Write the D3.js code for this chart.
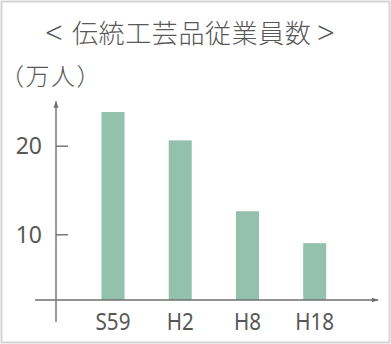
<!DOCTYPE html>
<html><head><meta charset="utf-8">
<script src="https://cdn.jsdelivr.net/npm/d3@7"></script>
<style>
html,body{margin:0;padding:0;background:#fff;}
svg{display:block;}
</style></head>
<body>
<script>
const categories = ["S59", "H2", "H8", "H18"];
const values = [23.8, 20.6, 12.6, 9.0];
const yTicks = [10, 20];
const titleLeft = "<";
const titleMain = "伝統工芸品従業員数";
const titleRight = ">";
const unitLabel = "（万人）";

const W = 391, H = 344;
const svg = d3.select("body").append("svg").attr("width", W).attr("height", H);

// frame
svg.append("rect").attr("x", 1.5).attr("y", 1.5).attr("width", W - 3).attr("height", H - 3)
  .attr("fill", "#fff").attr("stroke", "#d4d4d4").attr("stroke-width", 2);

const axisColor = "#6f6f6f";
const textColor = "#585858";
const barColor = "#93c1ad";

const y = d3.scaleLinear().domain([0, 25]).range([322.9, 101.4]);
const x = d3.scalePoint().domain(categories).range([113, 314.7]);
const baseY = 300, axisX = 56, barW = 23;

const defs = svg.append("defs");
defs.append("marker").attr("id", "arr").attr("viewBox", "0 0 10 10")
  .attr("refX", 9).attr("refY", 5).attr("markerWidth", 7).attr("markerHeight", 7)
  .attr("markerUnits", "userSpaceOnUse").attr("orient", "auto")
  .append("path").attr("d", "M0,1.5 L10,5 L0,8.5 Z").attr("fill", axisColor);

// title
const t = svg.append("text").attr("y", 43).attr("fill", textColor).attr("font-size", 26);
t.append("tspan").attr("x", 45).attr("font-family", "'Noto Sans'").attr("font-weight", 300)
  .attr("font-size", 31).attr("dy", 1).text(titleLeft);
t.append("tspan").attr("x", 72).attr("dy", -1).attr("font-family", "'Noto Sans CJK JP'").attr("font-weight", 300)
  .attr("letter-spacing", 0.6).text(titleMain);
t.append("tspan").attr("x", 317).attr("dy", 1).attr("font-family", "'Noto Sans'").attr("font-weight", 300)
  .attr("font-size", 31).text(titleRight);

svg.append("text").attr("x", 0).attr("y", 85)
  .attr("font-family", "'Noto Sans CJK JP'").attr("font-weight", 300).attr("font-size", 24)
  .attr("letter-spacing", 1.5).attr("fill", textColor)
  .text(unitLabel);

// bars
svg.selectAll("rect.bar").data(values).join("rect").attr("class", "bar")
  .attr("x", (d, i) => x(categories[i]) - barW / 2)
  .attr("y", d => y(d))
  .attr("width", barW)
  .attr("height", d => baseY - y(d))
  .attr("fill", barColor);

// y axis
const yAxis = d3.axisLeft(y).tickValues(yTicks).tickSize(-12).tickPadding(14).tickFormat(d3.format("d"));
const gy = svg.append("g").attr("transform", `translate(${axisX},0)`).call(yAxis);
gy.select(".domain").remove();
gy.selectAll(".tick line").attr("stroke", axisColor).attr("stroke-width", 1.4);
gy.selectAll(".tick text").attr("font-family", "'Noto Sans'").attr("font-size", 23)
  .attr("fill", textColor).attr("dy", "0.35em");

svg.append("line").attr("x1", axisX).attr("x2", axisX).attr("y1", 322).attr("y2", 101.5)
  .attr("stroke", axisColor).attr("stroke-width", 1.4).attr("marker-end", "url(#arr)");

// x axis
svg.append("line").attr("x1", 35).attr("x2", 378).attr("y1", baseY).attr("y2", baseY)
  .attr("stroke", axisColor).attr("stroke-width", 1.4).attr("marker-end", "url(#arr)");

svg.selectAll("text.xl").data(categories).join("text").attr("class", "xl")
  .attr("transform", d => `translate(${x(d)},330) scale(0.86,1)`)
  .attr("text-anchor", "middle")
  .attr("font-family", "'Noto Sans'").attr("font-size", 24).attr("fill", textColor)
  .text(d => d);
</script>
</body></html>
